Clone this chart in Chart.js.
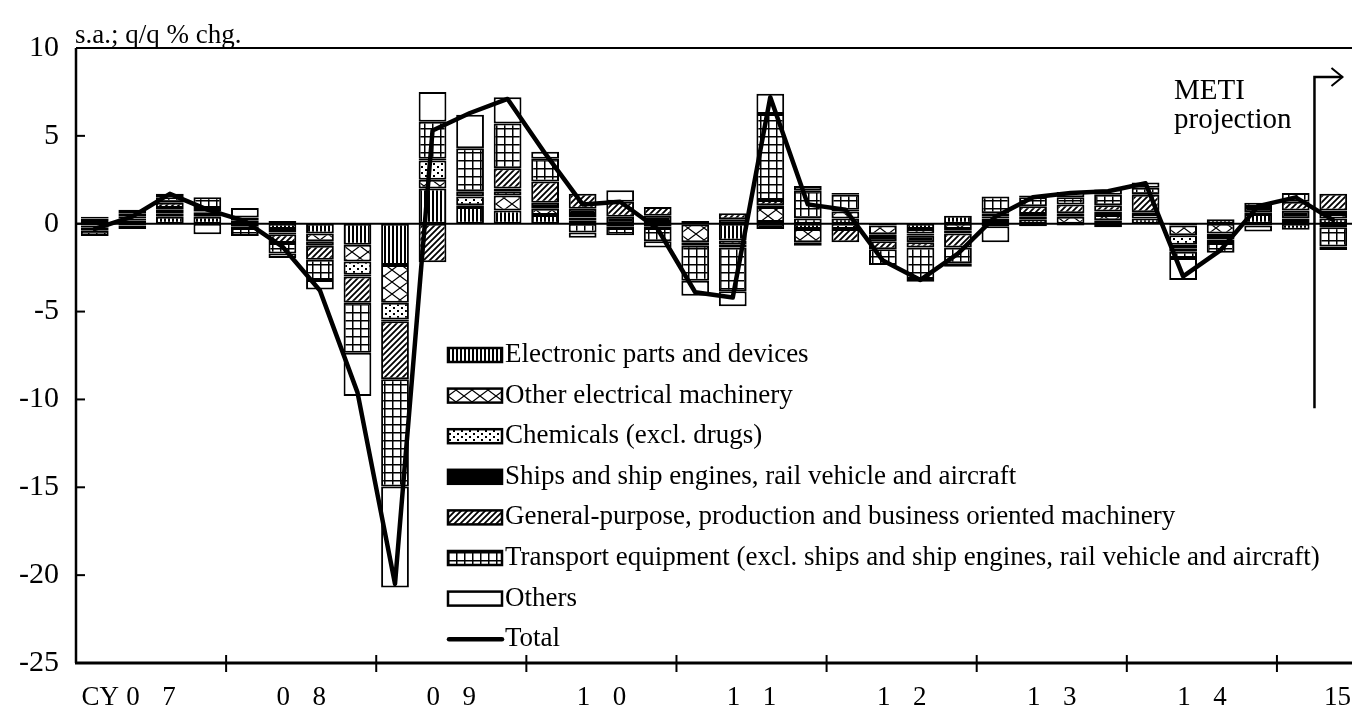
<!DOCTYPE html>
<html>
<head>
<meta charset="utf-8">
<script src="https://cdn.jsdelivr.net/npm/chart.js@4.4.1/dist/chart.umd.min.js"></script>
<style>
  html, body { margin: 0; padding: 0; background: #fff; overflow: hidden; }
  canvas { display: block; }
</style>
</head>
<body>
<canvas id="exportChart" width="1352" height="718"></canvas>
<script>
var categories = ['07Q1','07Q2','07Q3','07Q4','08Q1','08Q2','08Q3','08Q4',
                  '09Q1','09Q2','09Q3','09Q4','10Q1','10Q2','10Q3','10Q4',
                  '11Q1','11Q2','11Q3','11Q4','12Q1','12Q2','12Q3','12Q4',
                  '13Q1','13Q2','13Q3','13Q4','14Q1','14Q2','14Q3','14Q4',
                  '15Q1','15Q2'];
var yearLabels = ['07','08','09','10','11','12','13','14','15'];
var yTicks = [10, 5, 0, -5, -10, -15, -20, -25];

var electronic = [0.15,0.2,0.4,0.4,0.1,-0.3,-0.55,-1.2,-2.35,2.0,0.95,0.75,0.5,0.2,-0.15,-0.15,
                  -0.05,-0.95,0.1,-0.3,0.3,-0.1,-0.3,0.45,0.1,0.25,-0.1,0.2,0.3,-0.1,0.25,0.55,-0.35,0.3];
var otherElec  = [-0.1,0.1,0.2,0.15,-0.15,-0.2,-0.45,-0.95,-2.15,0.5,0.1,0.85,0.35,0.15,0,-0.1,
                  -1.0,-0.25,0.85,-0.75,0.4,-0.5,-0.25,-0.3,0.2,0.15,0.4,0.3,0,-0.55,-0.55,0.1,0.15,0.25];
var chemicals  = [0.15,0.1,0.2,0.1,0.1,0.15,0,-0.75,-0.95,1.1,0.5,0.25,0.1,0.2,-0.1,0.1,
                  -0.1,-0.15,0.1,0.3,-0.3,-0.15,-0.1,-0.1,0.1,0.15,0,-0.2,0.25,-0.55,-0.15,0,0.15,0.2];
var ships      = [-0.1,-0.1,0.1,0.05,-0.1,-0.1,-0.25,-0.1,-0.1,0.1,0.3,0.15,0.25,0.3,0.4,0.35,
                  0.15,0.25,-0.3,-0.2,0.1,-0.25,-0.4,-0.15,-0.15,-0.15,0.2,0.2,0.1,-0.2,-0.2,0.3,0.45,-0.2];
var general    = [-0.2,0.2,0.3,0.2,0.15,-0.5,-0.8,-1.5,-3.3,-2.2,0,1.15,1.2,0.85,0.85,0.5,
                  -0.1,0.35,0.3,0,-0.75,-0.45,-0.3,-0.8,0.2,0.45,0.5,0.35,1.0,-0.2,-0.2,-0.1,0.5,0.95];
var transport  = [-0.3,0.2,0.3,0.6,-0.45,-0.6,-1.15,-2.85,-6.1,2.1,2.45,2.55,1.3,-0.5,-0.4,-0.75,
                  -2.0,-2.5,4.9,1.6,0.85,-0.9,-1.8,-0.9,0.95,0.5,0.4,0.6,0.4,-0.35,-0.55,0.25,0.5,-1.1];
var others     = [0.1,-0.2,0.2,-0.6,0.55,-0.25,-0.55,-2.45,-5.75,1.7,1.9,1.5,0.4,-0.3,0.65,-0.35,
                  -0.85,-0.85,1.15,0.25,0.1,0,-0.15,-0.2,-0.9,0.1,0.3,0.3,0.3,-1.25,0,-0.35,0,-0.2];
var total      = [-0.3,0.4,1.7,0.8,0.15,-1.3,-3.8,-9.6,-20.5,5.3,6.3,7.1,4.0,1.1,1.25,-0.3,
                  -3.9,-4.2,7.2,1.1,0.8,-2.1,-3.2,-1.7,0.4,1.5,1.75,1.85,2.3,-3.0,-1.5,1.0,1.5,0.2];

var seriesNames = ['Electronic parts and devices',
                   'Other electrical machinery',
                   'Chemicals (excl. drugs)',
                   'Ships and ship engines, rail vehicle and aircraft',
                   'General-purpose, production and business oriented machinery',
                   'Transport equipment (excl. ships and ship engines, rail vehicle and aircraft)',
                   'Others'];

var FONT = "'Liberation Serif', 'Times New Roman', serif";

function makePattern(w, h, draw) {
  var c = document.createElement('canvas');
  c.width = w; c.height = h;
  var g = c.getContext('2d');
  g.fillStyle = '#fff';
  g.fillRect(0, 0, w, h);
  g.fillStyle = '#000';
  g.strokeStyle = '#000';
  draw(g, w, h);
  return g.createPattern(c, 'repeat');
}

var patterns = [
  // vertical lines
  makePattern(4, 4, function(g) { g.fillRect(0, 0, 2, 4); }),
  // large cross-hatch
  makePattern(16, 12, function(g, w, h) {
    g.lineWidth = 1.2;
    g.beginPath();
    g.moveTo(0, 0); g.lineTo(w, h);
    g.moveTo(w, 0); g.lineTo(0, h);
    g.stroke();
  }),
  // dots
  makePattern(8, 6, function(g) { g.fillRect(1, 1, 2, 2); g.fillRect(5, 4, 2, 2); }),
  // solid
  '#000',
  // diagonal hatch
  makePattern(6, 6, function(g) {
    g.lineWidth = 1.8;
    g.beginPath();
    g.moveTo(-1, 7); g.lineTo(7, -1);
    g.moveTo(-1, 1); g.lineTo(1, -1);
    g.moveTo(5, 7); g.lineTo(7, 5);
    g.stroke();
  }),
  // grid
  makePattern(8, 8, function(g) { g.fillRect(0, 0, 8, 1.5); g.fillRect(0, 0, 1.5, 8); }),
  // plain
  '#fff'
];

var seriesData = [electronic, otherElec, chemicals, ships, general, transport, others];

var datasets = seriesData.map(function(arr, i) {
  return {
    type: 'bar',
    label: seriesNames[i],
    data: arr.map(function(v) { return v === 0 ? null : v; }),
    backgroundColor: patterns[i],
    borderColor: '#000',
    borderWidth: 2,
    borderSkipped: false,
    barPercentage: 0.74,
    categoryPercentage: 1,
    stack: 'parts',
    order: 1
  };
});
datasets.push({
  type: 'line',
  label: 'Total',
  data: total,
  borderColor: '#000',
  borderWidth: 4.5,
  borderJoinStyle: 'round',
  borderCapStyle: 'round',
  pointRadius: 0,
  fill: false,
  tension: 0,
  stack: 'total',
  order: 0
});

var decor = {
  id: 'decor',
  beforeDatasetsDraw: function(chart) {
    var ctx = chart.ctx, a = chart.chartArea, y = chart.scales.y;
    var y0 = y.getPixelForValue(0);
    ctx.save();
    ctx.strokeStyle = '#000';
    ctx.lineWidth = 2;
    ctx.beginPath();
    ctx.moveTo(a.left, y0); ctx.lineTo(a.right, y0);
    ctx.stroke();
    ctx.restore();
  },
  afterDraw: function(chart) {
    var ctx = chart.ctx, a = chart.chartArea, x = chart.scales.x, y = chart.scales.y;
    ctx.save();
    ctx.strokeStyle = '#000';
    ctx.fillStyle = '#000';

    // frame: left axis, bottom axis, top line
    ctx.lineWidth = 2.5;
    ctx.beginPath();
    ctx.moveTo(a.left, a.top); ctx.lineTo(a.left, a.bottom);
    ctx.stroke();
    ctx.lineWidth = 3;
    ctx.beginPath();
    ctx.moveTo(a.left - 1, a.bottom); ctx.lineTo(a.right, a.bottom);
    ctx.stroke();
    ctx.lineWidth = 2;
    ctx.beginPath();
    ctx.moveTo(a.left, a.top); ctx.lineTo(a.right, a.top);
    ctx.stroke();

    // y ticks (inside)
    ctx.lineWidth = 2;
    yTicks.forEach(function(v) {
      var py = y.getPixelForValue(v);
      ctx.beginPath();
      ctx.moveTo(a.left, py); ctx.lineTo(a.left + 9, py);
      ctx.stroke();
    });

    // x ticks at year boundaries and year labels
    ctx.font = '27px ' + FONT;
    ctx.textBaseline = 'middle';
    for (var k = 0; k < yearLabels.length; k++) {
      if (k > 0) {
        var bx = (x.getPixelForValue(4 * k - 1) + x.getPixelForValue(4 * k)) / 2;
        ctx.beginPath();
        ctx.moveTo(bx, a.bottom - 8); ctx.lineTo(bx, a.bottom + 9);
        ctx.stroke();
      }
      var lab = yearLabels[k];
      if (k === yearLabels.length - 1) {
        ctx.textAlign = 'right';
        ctx.fillText(lab, chart.width - 1, 698);
        continue;
      }
      var cx = (x.getPixelForValue(4 * k + 1) + x.getPixelForValue(4 * k + 2)) / 2;
      ctx.textAlign = 'center';
      ctx.fillText(lab.charAt(0), cx - 18, 698);
      ctx.fillText(lab.charAt(1), cx + 18, 698);
      if (k === 0) {
        ctx.textAlign = 'right';
        ctx.fillText('CY', cx - 32, 698);
      }
    }

    // unit label
    ctx.textAlign = 'left';
    ctx.textBaseline = 'alphabetic';
    ctx.font = '27px ' + FONT;
    ctx.fillText('s.a.; q/q % chg.', 75, 43);

    // projection marker
    var px = (x.getPixelForValue(categories.length - 2) + x.getPixelForValue(categories.length - 1)) / 2;
    var top = y.getPixelForValue(8.35);
    ctx.lineWidth = 2.5;
    ctx.beginPath();
    ctx.moveTo(px, y.getPixelForValue(-10.5));
    ctx.lineTo(px, top);
    ctx.lineTo(px + 28, top);
    ctx.stroke();
    ctx.lineWidth = 2;
    ctx.beginPath();
    ctx.moveTo(px + 17, top - 9); ctx.lineTo(px + 28, top); ctx.lineTo(px + 17, top + 9);
    ctx.stroke();
    ctx.font = '29px ' + FONT;
    ctx.fillText('METI', 1174, 99);
    ctx.fillText('projection', 1174, 128);

    // legend
    ctx.font = '27px ' + FONT;
    ctx.textBaseline = 'middle';
    var lx = 448, lw = 54, rowY = 355, step = 40.6;
    for (var i = 0; i < seriesNames.length; i++) {
      var ry = rowY + i * step;
      ctx.fillStyle = patterns[i];
      ctx.fillRect(lx, ry - 7, lw, 14);
      ctx.lineWidth = 2.5;
      ctx.strokeStyle = '#000';
      ctx.strokeRect(lx, ry - 7, lw, 14);
      ctx.fillStyle = '#000';
      ctx.fillText(seriesNames[i], lx + 57, ry);
    }
    var ty = rowY + seriesNames.length * step;
    ctx.lineWidth = 4.5;
    ctx.lineCap = 'round';
    ctx.beginPath();
    ctx.moveTo(lx + 1, ty); ctx.lineTo(lx + lw, ty);
    ctx.stroke();
    ctx.fillText('Total', lx + 57, ty);

    ctx.restore();
  }
};

var ctx = document.getElementById('exportChart').getContext('2d');
var exportChart = new Chart(ctx, {
  data: { labels: categories, datasets: datasets },
  options: {
    responsive: false,
    animation: false,
    devicePixelRatio: 1,
    layout: { padding: { top: 48, right: 0, bottom: 0, left: 0 } },
    plugins: { legend: { display: false }, tooltip: { enabled: false } },
    scales: {
      x: {
        stacked: true,
        grid: { display: false, drawTicks: false },
        border: { display: false },
        ticks: { display: false },
        afterFit: function(scale) { scale.height = 55; }
      },
      y: {
        stacked: true,
        min: -25,
        max: 10,
        grid: { display: false, drawTicks: false },
        border: { display: false },
        ticks: {
          stepSize: 5,
          color: '#000',
          padding: 17,
          font: { family: FONT, size: 30 }
        },
        afterFit: function(scale) { scale.width = 76; }
      }
    }
  },
  plugins: [decor]
});
</script>
</body>
</html>
